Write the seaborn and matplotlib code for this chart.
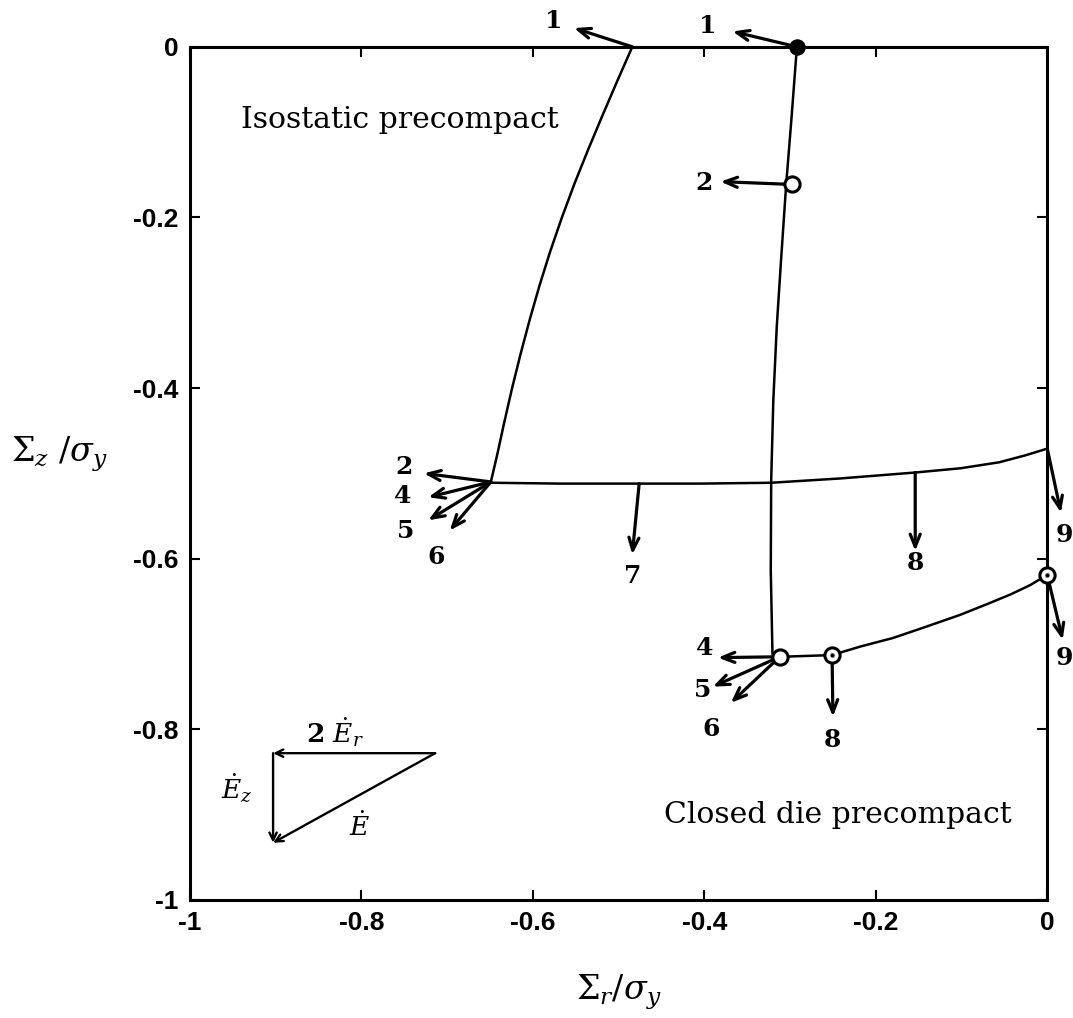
import matplotlib
matplotlib.use("Agg")
import matplotlib.pyplot as plt
import seaborn as sns

# ---------------- data ----------------
iso_x = [-0.484, -0.5015, -0.5186, -0.5353, -0.5513, -0.5661, -0.5798, -0.5923,
         -0.6037, -0.6143, -0.6242, -0.6333, -0.6420, -0.6490]
iso_y = [0.0, -0.04, -0.08, -0.12, -0.16, -0.20, -0.24, -0.28,
         -0.32, -0.36, -0.40, -0.44, -0.48, -0.510]

load_x = [-0.649, -0.568, -0.476, -0.405, -0.322, -0.242, -0.154, -0.101, -0.056, -0.026, 0.0]
load_y = [-0.511, -0.512, -0.512, -0.512, -0.511, -0.506, -0.499, -0.494, -0.487, -0.479, -0.471]

die_x = [-0.292, -0.2985, -0.3045, -0.3105, -0.3155, -0.3195, -0.3220, -0.3225, -0.3205]
die_y = [0.0, -0.086, -0.161, -0.250, -0.328, -0.414, -0.508, -0.614, -0.712]

cd_x = [-0.312, -0.281, -0.251, -0.218, -0.180, -0.142, -0.102, -0.072, -0.043, -0.020, 0.0]
cd_y = [-0.715, -0.714, -0.713, -0.703, -0.693, -0.680, -0.666, -0.654, -0.642, -0.631, -0.619]

filled_pts_x = [-0.292]
filled_pts_y = [0.0]
open_pts_x = [-0.298, -0.312]
open_pts_y = [-0.161, -0.715]
dot_pts_x = [-0.251, 0.0]
dot_pts_y = [-0.713, -0.619]

# arrows: start, tip, label text and label position
arrow_sx = [-0.484, -0.292, -0.306, -0.649, -0.649, -0.649, -0.649, -0.476, -0.154, 0.0,
            0.0, -0.312, -0.312, -0.312, -0.251]
arrow_sy = [0.0, 0.0, -0.161, -0.510, -0.510, -0.510, -0.510, -0.512, -0.499, -0.471,
            -0.619, -0.715, -0.715, -0.715, -0.713]
arrow_tx = [-0.552, -0.367, -0.381, -0.727, -0.722, -0.722, -0.697, -0.484, -0.154, 0.016,
            0.018, -0.384, -0.390, -0.369, -0.250]
arrow_ty = [0.022, 0.018, -0.158, -0.500, -0.528, -0.555, -0.567, -0.595, -0.591, -0.546,
            -0.695, -0.716, -0.750, -0.769, -0.785]
arrow_lab = ["1", "1", "2", "2", "4", "5", "6", "7", "8", "9", "9", "4", "5", "6", "8"]
lab_x = [-0.576, -0.396, -0.400, -0.750, -0.752, -0.748, -0.713, -0.484, -0.154, 0.020,
         0.020, -0.400, -0.402, -0.392, -0.250]
lab_y = [0.030, 0.024, -0.160, -0.492, -0.527, -0.568, -0.598, -0.620, -0.605, -0.572,
         -0.717, -0.705, -0.754, -0.800, -0.812]

tri_x = [-0.903, -0.714, -0.903]
tri_y = [-0.828, -0.828, -0.933]

ticks = [-1, -0.8, -0.6, -0.4, -0.2, 0]
tick_labels = ["-1", "-0.8", "-0.6", "-0.4", "-0.2", "0"]

# ---------------- figure ----------------
sns.set_theme(style="ticks")
plt.rcParams["font.family"] = ["Liberation Sans", "DejaVu Sans"]
plt.rcParams["mathtext.fontset"] = "dejavuserif"
plt.rcParams["text.color"] = "black"
plt.rcParams["axes.labelcolor"] = "black"

fig = plt.figure(figsize=(10.73, 10.18), dpi=100)
ax = fig.add_axes([0.177, 0.116, 0.799, 0.838])

lw = 1.8
for xs, ys in [(iso_x, iso_y), (load_x, load_y), (die_x, die_y), (cd_x, cd_y)]:
    sns.lineplot(x=xs, y=ys, ax=ax, sort=False, color="black", lw=lw,
                 estimator=None, legend=False)

for i in range(len(arrow_sx)):
    ax.annotate("", xy=(arrow_tx[i], arrow_ty[i]), xytext=(arrow_sx[i], arrow_sy[i]),
                arrowprops=dict(arrowstyle="->,head_length=0.75,head_width=0.3",
                                color="black", lw=2.3, shrinkA=0, shrinkB=0),
                annotation_clip=False)
    ax.text(lab_x[i], lab_y[i], arrow_lab[i], ha="center", va="center",
            fontsize=18, fontweight="bold", family="DejaVu Serif", clip_on=False)

sns.scatterplot(x=filled_pts_x, y=filled_pts_y, ax=ax, s=120, color="black",
                edgecolor="black", zorder=5, clip_on=False, legend=False)
sns.scatterplot(x=open_pts_x, y=open_pts_y, ax=ax, s=120, facecolor="white",
                edgecolor="black", linewidth=2.2, zorder=5, clip_on=False, legend=False)
sns.scatterplot(x=dot_pts_x, y=dot_pts_y, ax=ax, s=120, facecolor="white",
                edgecolor="black", linewidth=2.2, zorder=5, clip_on=False, legend=False)
sns.scatterplot(x=dot_pts_x, y=dot_pts_y, ax=ax, s=12, color="black",
                zorder=6, clip_on=False, legend=False)

# strain-rate triangle
tri_style = dict(arrowstyle="->,head_length=0.45,head_width=0.22",
                 color="black", lw=1.7, shrinkA=0, shrinkB=0)
ax.annotate("", xy=(tri_x[0], tri_y[0]), xytext=(tri_x[1], tri_y[1]), arrowprops=tri_style)
ax.annotate("", xy=(tri_x[2], tri_y[2]), xytext=(tri_x[0], tri_y[0]), arrowprops=tri_style)
ax.annotate("", xy=(tri_x[2], tri_y[2]), xytext=(tri_x[1], tri_y[1]), arrowprops=tri_style)
ax.text(-0.831, -0.803, r"$\mathbf{2}\ \dot{\mathbf{\mathit{E}}}_{\mathbf{\mathit{r}}}$",
        ha="center", va="center", fontsize=19)
ax.text(-0.945, -0.869, r"$\dot{\mathbf{\mathit{E}}}_{\mathbf{\mathit{z}}}$",
        ha="center", va="center", fontsize=19)
ax.text(-0.802, -0.914, r"$\dot{\mathbf{\mathit{E}}}$",
        ha="center", va="center", fontsize=19)

ax.text(-0.755, -0.086, "Isostatic precompact", ha="center", va="center",
        fontsize=21.5, family="DejaVu Serif")
ax.text(-0.244, -0.900, "Closed die precompact", ha="center", va="center",
        fontsize=21.5, family="DejaVu Serif")

ax.set_xlim(-1, 0)
ax.set_ylim(-1, 0)
ax.set_xticks(ticks)
ax.set_xticklabels(tick_labels)
ax.set_yticks(ticks)
ax.set_yticklabels(tick_labels)
ax.tick_params(direction="in", length=7, width=1.5, top=True, right=True,
               labelsize=19, pad=8, colors="black")
for lab in ax.get_xticklabels() + ax.get_yticklabels():
    lab.set_fontweight("bold")
for sp in ax.spines.values():
    sp.set_visible(True)
    sp.set_linewidth(2.2)
    sp.set_color("black")

ax.set_xlabel(r"$\Sigma_r/\sigma_y$", fontsize=24)
ax.xaxis.set_label_coords(0.50, -0.085)
ax.set_ylabel(r"$\Sigma_z\ /\sigma_y$", fontsize=24, rotation=0, va="center", ha="center")
ax.yaxis.set_label_coords(-0.152, 0.522)

fig.savefig("out.png", dpi=100, facecolor="white")
